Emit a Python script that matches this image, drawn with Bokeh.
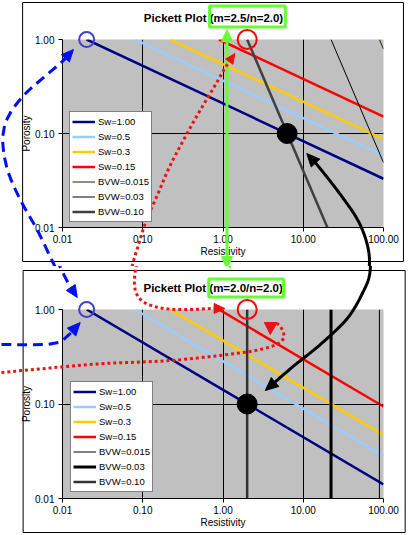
import numpy as np
from bokeh.plotting import figure
from bokeh.models import Range1d, LinearScale, FixedTicker, PrintfTickFormatter
from bokeh.core.properties import value
from bokeh.layouts import column
from bokeh.embed import file_html
from bokeh.resources import INLINE

# ---------------- data ----------------
sw_labels = ["Sw=1.00", "Sw=0.5", "Sw=0.3", "Sw=0.15"]
bvw_labels = ["BVW=0.015", "BVW=0.03", "BVW=0.10"]
axis_ticks = [0.01, 0.1, 1, 10, 100]

# top chart: m=2.5 / n=2.0 (line end points: resistivity, porosity)
top_title = "Pickett Plot (m=2.5/n=2.0)"
top_sw_rt = [[0.02, 100], [0.08, 100], [0.22, 100], [0.89, 100]]
top_sw_phi = [[1.0, 0.033], [1.0, 0.058], [1.0, 0.087], [1.0, 0.151]]
top_bvw_rt = [[88.9, 100], [22.2, 100], [2.0, 20.0]]
top_bvw_phi = [[1.0, 0.79], [1.0, 0.049], [1.0, 0.01]]
top_point_rt = [6.3]
top_point_phi = [0.10]

# bottom chart: m=2.0 / n=2.0
bot_title = "Pickett Plot (m=2.0/n=2.0)"
bot_sw_rt = [[0.02, 100], [0.08, 100], [0.22, 100], [0.89, 100]]
bot_sw_phi = [[1.0, 0.0141], [1.0, 0.0283], [1.0, 0.047], [1.0, 0.094]]
bot_bvw_rt = [[88.9, 88.9], [22.2, 22.2], [2.0, 2.0]]
bot_bvw_phi = [[0.01, 1.0], [0.01, 1.0], [0.01, 1.0]]
bot_point_rt = [2.0]
bot_point_phi = [0.10]

# highlighted start points (open circles)
mark_rt = [0.02, 2.0]
mark_phi = [1.0, 1.0]

# ---------------- styles ----------------
FONT = "Liberation Sans"
W = 408
sw_colors = ["#000080", "#99CCFF", "#FFCC00", "#FF0000"]
top_bvw_colors = ["#222200", "#000000", "#404040"]
top_bvw_widths = [1, 1, 2.5]
bot_bvw_colors = ["#000000", "#000000", "#333333"]
bot_bvw_widths = [1, 3, 2.5]
GREEN = "#66FF33"
BLUE = "#0010F0"
RED = "#EE1111"
OV = dict(x_range_name="px", y_range_name="py", level="overlay")


def make_fig(canvas_top, height, fl, fr, ft, fb):
    p = figure(width=W, height=height, x_axis_type="log", y_axis_type="log",
               x_range=Range1d(0.01, 100), y_range=Range1d(0.01, 1),
               toolbar_location=None, output_backend="svg",
               min_border_left=fl, min_border_right=W - fr,
               min_border_top=ft - canvas_top,
               min_border_bottom=height - (fb - canvas_top))
    # page-pixel coordinate system for the hand-drawn overlays
    p.extra_x_ranges = {"px": Range1d(fl, fr)}
    p.extra_y_ranges = {"py": Range1d(fb, ft)}
    p.extra_x_scales = {"px": LinearScale()}
    p.extra_y_scales = {"py": LinearScale()}
    p.background_fill_color = "#C0C0C0"
    p.border_fill_color = "white"
    p.outline_line_color = None
    p.xgrid.ticker = FixedTicker(ticks=[0.1, 1, 10])
    p.ygrid.ticker = FixedTicker(ticks=[0.1])
    p.grid.grid_line_color = "black"
    p.grid.grid_line_width = 1
    p.grid.minor_grid_line_color = None
    p.xaxis.ticker = FixedTicker(ticks=axis_ticks)
    p.yaxis.ticker = FixedTicker(ticks=axis_ticks[:3])
    p.axis.formatter = PrintfTickFormatter(format="%.2f")
    p.axis.axis_line_color = "black"
    p.axis.major_tick_line_color = "black"
    p.axis.major_tick_out = 4
    p.axis.major_tick_in = 0
    p.axis.minor_tick_line_color = None
    p.axis.major_label_text_font = FONT
    p.axis.major_label_text_font_size = "10px"
    p.axis.major_label_text_color = "black"
    p.axis.axis_label_text_font = FONT
    p.axis.axis_label_text_font_size = "10px"
    p.axis.axis_label_text_font_style = "normal"
    p.axis.axis_label_text_color = "black"
    p.xaxis.axis_label = "Resistivity"
    p.yaxis.axis_label = "Porosity"
    p.xaxis.major_label_standoff = 3
    p.xaxis.axis_label_standoff = 0
    p.yaxis.major_label_standoff = 4
    p.yaxis.axis_label_standoff = 0
    return p


def spline(pts, n=30):
    P = np.array(pts, float)
    Q = np.vstack([P[0], P, P[-1]])
    out = []
    for i in range(1, len(Q) - 2):
        p0, p1, p2, p3 = Q[i - 1], Q[i], Q[i + 1], Q[i + 2]
        for t in np.linspace(0, 1, n, endpoint=False):
            out.append(0.5 * ((2 * p1) + (-p0 + p2) * t + (2 * p0 - 5 * p1 + 4 * p2 - p3) * t * t
                              + (-p0 + 3 * p1 - 3 * p2 + p3) * t ** 3))
    out.append(P[-1])
    return np.array(out)


def add_head(p, xa, ya, xb, yb, color, size, width=None):
    width = size * 0.9 if width is None else width
    u = np.array([xb - xa, yb - ya], float)
    u /= np.hypot(*u)
    n = np.array([-u[1], u[0]])
    tip = np.array([xb, yb], float)
    base = tip - u * size
    v1 = base + n * width / 2
    v2 = base - n * width / 2
    p.patch([tip[0], v1[0], v2[0]], [tip[1], v1[1], v2[1]], fill_color=color,
            line_color=color, line_width=1, **OV)


def draw_path(p, pts, color, width, on, off, h_start=0, h_end=0):
    path = spline(pts)
    d = np.hypot(*np.diff(path, axis=0).T)
    s = np.concatenate([[0], np.cumsum(d)])
    L = s[-1]
    px = lambda a: float(np.interp(a, s, path[:, 0]))
    py = lambda a: float(np.interp(a, s, path[:, 1]))
    a0 = h_start * 0.7
    a1 = L - h_end * 0.7
    x0, y0, x1, y1 = [], [], [], []
    if off == 0:
        cuts = np.arange(a0, a1, 2.0).tolist() + [a1]
        p.line([px(a) for a in cuts], [py(a) for a in cuts], line_color=color,
               line_width=width, line_join="round", **OV)
    else:
        a = a0
        while a < a1:
            b = min(a + on, a1)
            x0.append(px(a)); y0.append(py(a)); x1.append(px(b)); y1.append(py(b))
            a += on + off
        p.segment(x0, y0, x1, y1, line_color=color, line_width=width, **OV)
    if h_start:
        add_head(p, px(h_start + 3), py(h_start + 3), px(0), py(0), color, h_start)
    if h_end:
        add_head(p, px(L - h_end - 3), py(L - h_end - 3), px(L), py(L), color, h_end)


def overlays(p):
    # green double arrow linking the two parameter boxes
    p.segment([227], [262], [227], [36], line_color=GREEN, line_width=3, **OV)
    add_head(p, 227, 250, 227, 268, GREEN, 12, 11)
    add_head(p, 227, 45, 227, 29, GREEN, 12, 11)
    # blue dashed arc between the Rw circles
    draw_path(p, [(73, 49), (63, 60), (43, 77), (23, 95), (7, 117), (2, 140), (7, 170),
                  (20, 200), (37, 230), (50, 257), (63, 283), (72, 297)],
              BLUE, 3, 10, 6, h_start=12, h_end=12)
    draw_path(p, [(-5, 344), (40, 344), (55, 341), (66, 332), (75, 322)],
              BLUE, 3, 10, 6, h_end=13)
    # red dotted paths
    draw_path(p, [(235, 53), (226, 66), (215, 85), (200, 110), (187, 133), (170, 165),
                  (157, 195), (146, 220), (138, 245), (131, 270), (131, 290), (140, 302),
                  (160, 308), (185, 309), (208, 308), (222, 308)],
              RED, 3, 3, 3, h_start=10, h_end=11)
    draw_path(p, [(-5, 372), (50, 367), (100, 363), (167, 360), (233, 353), (262, 348),
                  (278, 342), (282, 335), (279, 327), (275, 323)],
              RED, 3, 3, 3)
    p.patch([262, 275, 268], [322, 322, 334], fill_color=RED, line_color=RED, line_width=1, **OV)
    # black curved arrow between the two interpretation points
    draw_path(p, [(307, 153), (318, 165), (343, 197), (360, 223), (369, 250), (369, 273),
                  (363, 290), (347, 317), (320, 343), (290, 367), (263, 390)],
              "black", 3, 1, 0, h_start=13, h_end=13)


def chart_boxes(p, title, tx, ty, gbox, obox):
    l, r, t, b = obox
    p.quad(left=[l], right=[r], top=[t], bottom=[b], fill_color=None,
           line_color="black", line_width=1, **OV)
    p.text(x=[tx], y=[ty], text=[title], text_font=value(FONT), text_font_size="11.5px",
           text_font_style="bold", text_align="center", text_baseline="middle",
           text_color="black", **OV)
    l, r, t, b = gbox
    p.quad(left=[l], right=[r], top=[t], bottom=[b], fill_color=None,
           line_color=GREEN, line_width=3, **OV)


def draw_chart(p, sw_rt, sw_phi, bvw_rt, bvw_phi, bvw_colors, bvw_widths, pt_rt, pt_phi, loc):
    for rt, phi, lab, c in zip(sw_rt, sw_phi, sw_labels, sw_colors):
        p.line(rt, phi, line_color=c, line_width=2.5, legend_label=lab)
    for rt, phi, lab, c, w in zip(bvw_rt, bvw_phi, bvw_labels, bvw_colors, bvw_widths):
        p.line(rt, phi, line_color=c, line_width=w, legend_label=lab)
    p.scatter(pt_rt, pt_phi, size=20, color="black")
    p.scatter(mark_rt, mark_phi, size=[15, 19], fill_color=None,
              line_color=["#4040C8", "#FF0000"], line_width=2, level="overlay")
    leg = p.legend[0]
    leg.location = loc
    leg.label_text_font = FONT
    leg.label_text_font_size = "9.5px"
    leg.label_text_color = "black"
    leg.padding = 2
    leg.spacing = 0
    leg.margin = 0
    leg.glyph_width = 23
    leg.glyph_height = 15
    leg.label_height = 15
    leg.label_standoff = 3
    leg.border_line_color = "black"
    leg.border_line_width = 1
    leg.background_fill_color = "white"
    leg.background_fill_alpha = 1


# top figure: canvas page y 0..266, frame x 62..384, y 39..227
p1 = make_fig(0, 266, 62, 384, 39, 227)
draw_chart(p1, top_sw_rt, top_sw_phi, top_bvw_rt, top_bvw_phi, top_bvw_colors,
           top_bvw_widths, top_point_rt, top_point_phi, (7, 5))
chart_boxes(p1, top_title, 213.5, 17, (209.5, 285.5, 5.5, 26.5), (22, 404, 2, 261))
overlays(p1)

# bottom figure: canvas page y 266..534, frame x 57..383, y 309..498
p2 = make_fig(266, 268, 57, 383, 309, 498)
draw_chart(p2, bot_sw_rt, bot_sw_phi, bot_bvw_rt, bot_bvw_phi, bot_bvw_colors,
           bot_bvw_widths, bot_point_rt, bot_point_phi, (8, 6))
chart_boxes(p2, bot_title, 210, 287, (205.5, 281.5, 278.5, 296.5), (17, 405, 270, 532))
overlays(p2)

layout = column(p1, p2, spacing=0)
open("out.html", "w").write(file_html(layout, INLINE))
